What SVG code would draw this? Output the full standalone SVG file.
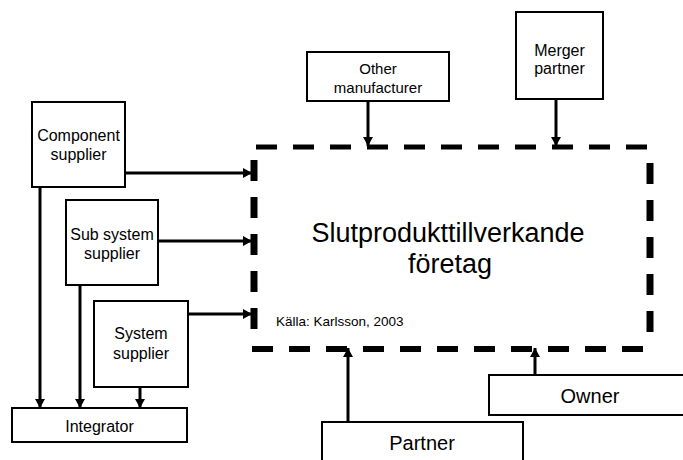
<svg xmlns="http://www.w3.org/2000/svg" width="683" height="460" viewBox="0 0 683 460">
<style>
.box{fill:#fff;stroke:#000;stroke-width:2}
.t{font-family:"Liberation Sans",Arial,sans-serif;fill:#000;text-anchor:middle}
.c{stroke:#000;stroke-width:3;fill:none;marker-end:url(#ah)}
.d{stroke:#000;fill:none;stroke-dasharray:21 16}
</style>
<defs>
<marker id="ah" markerUnits="userSpaceOnUse" markerWidth="9" markerHeight="10" refX="9" refY="5" orient="auto">
<path d="M0,0 L9,5 L0,10 z" fill="#000"/>
</marker>
</defs>
<rect width="683" height="460" fill="#fff"/>
<g id="main">
<line class="d" x1="256" y1="147" x2="652" y2="147" stroke-width="5"/>
<line class="d" x1="252" y1="349" x2="650" y2="349" stroke-width="6"/>
<line class="d" x1="254" y1="160" x2="254" y2="345" stroke-width="7"/>
<line class="d" x1="650" y1="163" x2="650" y2="346" stroke-width="7"/>
<text class="t" x="448" y="242" font-size="27">Slutprodukttillverkande</text>
<text class="t" x="450" y="273" font-size="27">företag</text>
<text class="t" x="276" y="326" font-size="13.5" style="text-anchor:start">Källa: Karlsson, 2003</text>
</g>
<g id="component">
<rect class="box" x="32" y="102" width="93" height="85"/>
<text class="t" x="78.5" y="141" font-size="16">Component</text>
<text class="t" x="78.5" y="160" font-size="16">supplier</text>
</g>
<g id="subsystem">
<rect class="box" x="66" y="200" width="92" height="85"/>
<text class="t" x="112" y="240" font-size="16">Sub system</text>
<text class="t" x="112" y="259" font-size="16">supplier</text>
</g>
<g id="system">
<rect class="box" x="94" y="301" width="94" height="86"/>
<text class="t" x="141" y="339" font-size="16">System</text>
<text class="t" x="141" y="359" font-size="16">supplier</text>
</g>
<g id="integrator">
<rect class="box" x="12" y="408" width="175" height="34"/>
<text class="t" x="99.5" y="432" font-size="16">Integrator</text>
</g>
<g id="other">
<rect class="box" x="307" y="52" width="142" height="49"/>
<text class="t" x="378" y="74" font-size="15">Other</text>
<text class="t" x="378" y="93" font-size="15">manufacturer</text>
</g>
<g id="merger">
<rect class="box" x="516" y="12" width="87" height="87"/>
<text class="t" x="559.5" y="56" font-size="16">Merger</text>
<text class="t" x="559.5" y="74" font-size="16">partner</text>
</g>
<g id="owner">
<rect class="box" x="489" y="375" width="210" height="40"/>
<text class="t" x="590" y="403" font-size="20">Owner</text>
</g>
<g id="partner">
<rect class="box" x="322" y="422" width="201" height="50"/>
<text class="t" x="422" y="450" font-size="20">Partner</text>
</g>
<g id="connectors">
<line class="c" x1="125" y1="173" x2="252" y2="173"/>
<line class="c" x1="158" y1="241" x2="252" y2="241"/>
<line class="c" x1="188" y1="314" x2="252" y2="314"/>
<line class="c" x1="40" y1="187" x2="40" y2="408"/>
<line class="c" x1="80" y1="285" x2="80" y2="408"/>
<line class="c" x1="140" y1="387" x2="140" y2="408"/>
<line class="c" x1="368" y1="101" x2="368" y2="146"/>
<line class="c" x1="556" y1="99" x2="556" y2="146"/>
<line class="c" x1="348" y1="422" x2="348" y2="348"/>
<line class="c" x1="535" y1="375" x2="535" y2="348"/>
</g>
</svg>
